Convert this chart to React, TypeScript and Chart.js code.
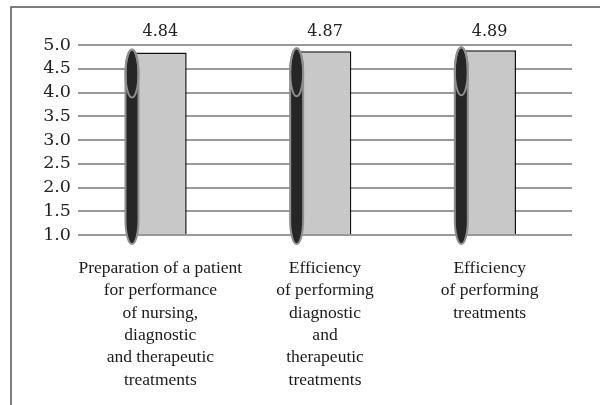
import React, { useEffect, useRef } from "react";
import { Chart, registerables } from "chart.js";

Chart.register(...registerables);

const categories: string[][] = [
  ["Preparation of a patient", "for performance", "of nursing,", "diagnostic", "and therapeutic", "treatments"],
  ["Efficiency", "of performing", "diagnostic", "and", "therapeutic", "treatments"],
  ["Efficiency", "of performing", "treatments"],
];
const values: number[] = [4.84, 4.87, 4.89];
const valueLabels: string[] = ["4.84", "4.87", "4.89"];
const yMin = 1.0;
const yMax = 5.0;
const yStep = 0.5;

const framePlugin = {
  id: "frame",
  beforeDraw(chart: any) {
    const ctx = chart.ctx;
    ctx.save();
    ctx.strokeStyle = "#555555";
    ctx.lineWidth = 1.5;
    ctx.beginPath();
    ctx.moveTo(11, chart.height);
    ctx.lineTo(11, 7);
    ctx.lineTo(chart.width, 7);
    ctx.stroke();
    ctx.restore();
  },
};

function capsule(ctx: any, cx: number, top: number, bottom: number, rx: number, cap: number) {
  ctx.beginPath();
  ctx.ellipse(cx, top + cap, rx, cap, 0, Math.PI, 0);
  ctx.lineTo(cx + rx, bottom - cap);
  ctx.ellipse(cx, bottom - cap, rx, cap, 0, 0, Math.PI);
  ctx.closePath();
}

const cylinderPlugin = {
  id: "cylinders",
  afterDatasetsDraw(chart: any) {
    const ctx = chart.ctx;
    const meta = chart.getDatasetMeta(0);
    const yScale = chart.scales.y;
    const base = yScale.getPixelForValue(yMin);
    ctx.save();
    meta.data.forEach((bar: any, i: number) => {
      const left = bar.x - bar.width / 2;
      const cx = left - 2;
      const top = bar.y - 3;
      const bottom = base + 9;
      const rx = 6.5;
      capsule(ctx, cx, top, bottom, rx, 24);
      ctx.fillStyle = "#262626";
      ctx.fill();
      ctx.lineWidth = 2;
      ctx.strokeStyle = "#8f8f8f";
      ctx.stroke();
      const sry = 24;
      ctx.beginPath();
      ctx.ellipse(cx, top + sry, rx, sry, 0, 0, Math.PI * 2);
      ctx.stroke();
      // value label
      ctx.fillStyle = "#222222";
      ctx.font = "16px 'DejaVu Serif'";
      ctx.textAlign = "center";
      ctx.textBaseline = "middle";
      const xc = chart.scales.x.getPixelForValue(i);
      ctx.fillText(valueLabels[i], xc, 32);
    });
    ctx.restore();
  },
};

export default function App() {
  const ref = useRef<HTMLCanvasElement>(null);
  useEffect(() => {
    if (!ref.current) return;
    const chart = new Chart(ref.current, {
      type: "bar",
      data: {
        labels: categories,
        datasets: [
          {
            data: values,
            base: yMin,
            backgroundColor: "#c8c8c8",
            borderColor: "#111111",
            borderWidth: 1.5,
            barPercentage: 0.32,
            categoryPercentage: 1,
          },
        ],
      },
      options: {
        animation: false,
        responsive: false,
        maintainAspectRatio: false,
        layout: { padding: { top: 45, right: 28, left: 0, bottom: 0 } },
        plugins: {
          legend: { display: false },
          tooltip: { enabled: false },
        },
        scales: {
          x: {
            grid: { display: false, drawTicks: false },
            border: { display: false },
            ticks: {
              color: "#1a1a1a",
              padding: 22,
              maxRotation: 0,
              autoSkip: false,
              font: { family: "'Liberation Serif'", size: 17.5, lineHeight: 1.28 },
            },
            afterFit: (s: any) => {
              s.height = 170;
            },
          },
          y: {
            min: yMin,
            max: yMax,
            grid: { color: "#999999", lineWidth: 2, drawTicks: false },
            border: { display: false },
            ticks: {
              stepSize: yStep,
              autoSkip: false,
              padding: 7,
              color: "#222222",
              font: { family: "'DejaVu Serif'", size: 17.5 },
              callback: (v: any) => Number(v).toFixed(1),
            },
            afterFit: (s: any) => {
              s.width = 78;
            },
          },
        },
      },
      plugins: [framePlugin, cylinderPlugin],
    });
    return () => chart.destroy();
  }, []);
  return (
    <div style={{ position: "fixed", left: 0, top: 0, width: 600, height: 405, background: "#fff" }}>
      <canvas ref={ref} width={600} height={405} style={{ width: 600, height: 405, display: "block" }} />
    </div>
  );
}
